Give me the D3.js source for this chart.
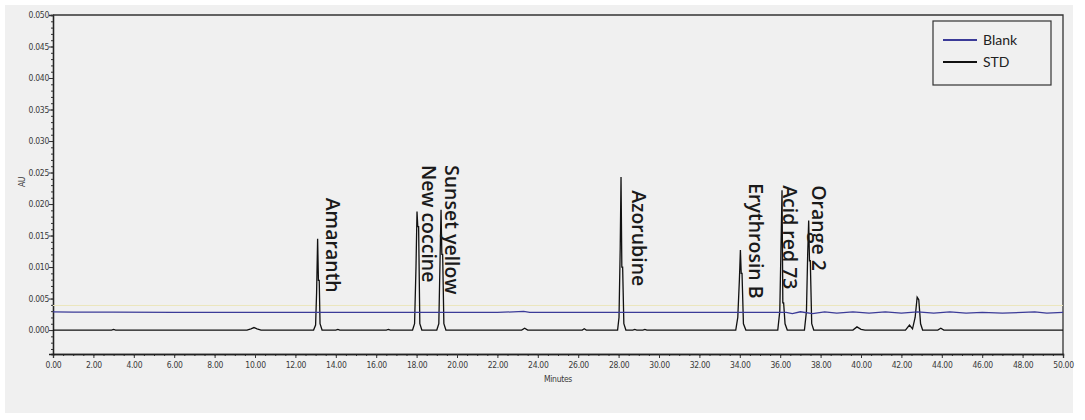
<!DOCTYPE html>
<html>
<head>
<meta charset="utf-8">
<script src="https://cdn.jsdelivr.net/npm/d3@7"></script>
<style>
	body { margin:0; background:#ffffff; }
	#chart { width:1085px; height:420px; }
	.small { font-family:"DejaVu Sans Condensed","DejaVu Sans",sans-serif; font-stretch:condensed; font-size:8.5px; fill:#3a3a3a; letter-spacing:-0.3px; }
</style>
</head>
<body>
<div id="chart"></div>
<script>

// retention time (min), absorbance (AU)
let stdTrace = [
	[0,0],[2.9,0],[3.0,0.0001],[3.1,0],[9.6,0],[9.8,0.0002],[9.95,0.0004],[10.1,0.0002],[10.3,0],
	[12.9,0],[13.0,0.0008],[13.05,0.006],[13.1,0.0145],[13.14,0.0079],[13.18,0.0079],[13.22,0.001],[13.32,0],
	[14.0,0],[14.1,0.0001],[14.2,0],[16.5,0],[16.6,0.0001],[16.7,0],
	[17.8,0],[17.9,0.001],[17.97,0.01],[18.02,0.0188],[18.06,0.0164],[18.1,0.0164],[18.16,0.001],[18.26,0],
	[19.0,0],[19.1,0.001],[19.16,0.011],[19.21,0.0191],[19.25,0.012],[19.29,0.012],[19.35,0.001],[19.45,0],
	[23.2,0],[23.35,0.0003],[23.5,0],[26.2,0],[26.3,0.0002],[26.4,0],
	[27.95,0],[28.02,0.002],[28.08,0.013],[28.12,0.0243],[28.16,0.01],[28.2,0.01],[28.26,0.001],[28.36,0],
	[28.7,0],[28.8,0.0001],[28.9,0],[29.2,0],[29.3,0.0001],[29.4,0],
	[33.8,0],[33.9,0.002],[33.98,0.008],[34.03,0.0127],[34.07,0.009],[34.11,0.009],[34.18,0.001],[34.3,0],
	[35.88,0],[35.98,0.003],[36.05,0.015],[36.09,0.0222],[36.13,0.0043],[36.17,0.0043],[36.24,0.001],[36.35,0],
	[37.2,0],[37.3,0.003],[37.36,0.012],[37.41,0.0174],[37.45,0.011],[37.49,0.011],[37.56,0.001],[37.66,0],
	[39.6,0],[39.8,0.0005],[40.0,0.0001],[40.2,0],
	[42.2,0],[42.4,0.0008],[42.55,0.0002],[42.68,0.002],[42.78,0.0052],[42.86,0.0048],[42.95,0.001],[43.05,0],
	[43.8,0],[43.95,0.0003],[44.1,0],[50,0]
]

let blankTrace = [
	[0,0.0029],[1.0,0.00285],[3.0,0.00283],[6.0,0.00282],[10.0,0.00282],[14.0,0.0028],[18.0,0.0028],
	[22.0,0.0028],[23.3,0.00295],[23.6,0.0028],[26.0,0.0028],[30.0,0.0028],[33.0,0.0028],
	[36.3,0.0028],[36.6,0.0026],[37.0,0.0029],[37.6,0.0026],[38.2,0.0029],[38.8,0.0027],[39.6,0.0029],
	[40.4,0.0027],[41.2,0.0029],[42.0,0.0027],[42.8,0.0029],[43.6,0.0027],[44.4,0.0029],[45.2,0.0027],
	[46.0,0.0028],[47.0,0.0027],[48.0,0.0028],[48.6,0.0029],[49.2,0.0027],[50,0.0028]
]

let faintTrace = [[0,0.0039],[50,0.0039]]

let peakNames = ['Amaranth','New coccine','Sunset yellow','Azorubine','Erythrosin B','Acid red 73','Orange 2']
let labelTimes = [13.5, 18.27, 19.41, 28.66, 34.46, 36.14, 37.57]
let labelTops = [0.0210, 0.0262, 0.0262, 0.0222, 0.0233, 0.0230, 0.0230]

let xTicks = [0,2,4,6,8,10,12,14,16,18,20,22,24,26,28,30,32,34,36,38,40,42,44,46,48,50]
let yTicks = [0,0.005,0.010,0.015,0.020,0.025,0.030,0.035,0.040,0.045,0.050]

let seriesNames = ['Blank','STD']
let seriesColors = ['#3b3b98','#111111']

let width = 1085
let height = 420
let margin = {left:53,right:22,top:15,bottom:66}

let svg = d3.select('#chart').append('svg').attr('width',width).attr('height',height)

svg.append('rect').attr('x',5).attr('y',5).attr('width',1068).attr('height',408).attr('fill','#f0f0f0')

let x = d3.scaleLinear().domain([0,50]).range([margin.left, width-margin.right])
let y = d3.scaleLinear().domain([-0.0038,0.050]).range([height-margin.bottom, margin.top])

let xMinor = d3.axisBottom(x).tickValues(d3.range(0,50.01,0.5)).tickSize(2).tickFormat('')
let yMinor = d3.axisLeft(y).tickValues(d3.range(-0.003,0.0501,0.001)).tickSize(2).tickFormat('')

svg.append('g').attr('transform',`translate(0,${height-margin.bottom})`).call(xMinor)
svg.append('g').attr('transform',`translate(${margin.left},0)`).call(yMinor)

let xAxis = d3.axisBottom(x).tickValues(xTicks).tickSize(4).tickPadding(4).tickFormat(d3.format('.2f'))
let yAxis = d3.axisLeft(y).tickValues(yTicks).tickSize(4).tickPadding(0).tickFormat(d3.format('.3f'))

svg.append('g').attr('transform',`translate(0,${height-margin.bottom})`).call(xAxis)
svg.append('g').attr('transform',`translate(${margin.left},0)`).call(yAxis)

svg.selectAll('.tick text').attr('class','small').attr('font-family',null).attr('font-size',null)
svg.selectAll('g').attr('font-family',null).attr('font-size',null)
svg.selectAll('.domain').attr('stroke','#222').attr('stroke-width',1.3)
svg.selectAll('.tick line').attr('stroke','#333')

// frame top and right
svg.append('path').attr('fill','none').attr('stroke','#333').attr('stroke-width',1.3)
	.attr('d',`M${x(0)},${y(0.050)}H${x(50)}V${y(-0.0038)}`)

svg.append('text').attr('class','small').attr('x',x(25)).attr('y',382).attr('text-anchor','middle')
	.text('Minutes')

svg.append('text').attr('class','small').attr('transform',`translate(25,${y(0.0235)}) rotate(-90)`).attr('text-anchor','middle')
	.text('AU')

let line = d3.line().x(d=>x(d[0])).y(d=>y(d[1]))

svg.append('path').datum(faintTrace).attr('d',line).attr('fill','none').attr('stroke','#ebe6bd').attr('stroke-width',1)
svg.append('path').datum(stdTrace).attr('d',line).attr('fill','none').attr('stroke',seriesColors[1]).attr('stroke-width',1.3)
svg.append('path').datum(blankTrace).attr('d',line).attr('fill','none').attr('stroke',seriesColors[0]).attr('stroke-width',1.3)

svg.selectAll('.peak-label')
	.data(peakNames)
	.enter().append('text')
	.attr('class','peak-label')
	.attr('transform',(d,i)=>`translate(${x(labelTimes[i])},${y(labelTops[i])}) rotate(90)`)
	.style('font-family','"Open Sans","Noto Sans",sans-serif').style('font-size','19.5px').style('font-weight','600').attr('fill','#1a1a1a')
	.text(d=>d)

// legend
let legend = svg.append('g').attr('transform','translate(933,21)')
legend.append('rect').attr('width',118).attr('height',64).attr('fill','#f0f0f0').attr('stroke','#333').attr('stroke-width',1.2)
legend.selectAll('line')
	.data(seriesNames)
	.enter().append('line')
	.attr('x1',10).attr('x2',44)
	.attr('y1',(d,i)=>19+i*22).attr('y2',(d,i)=>19+i*22)
	.attr('stroke',(d,i)=>seriesColors[i]).attr('stroke-width',2.2)
legend.selectAll('text')
	.data(seriesNames)
	.enter().append('text')
	.attr('x',50).attr('y',(d,i)=>19+i*22).attr('dy','0.35em')
	.style('font-family','Lato,"Open Sans",sans-serif').style('font-size','14px').attr('fill','#222')
	.text(d=>d)

</script>
</body>
</html>
